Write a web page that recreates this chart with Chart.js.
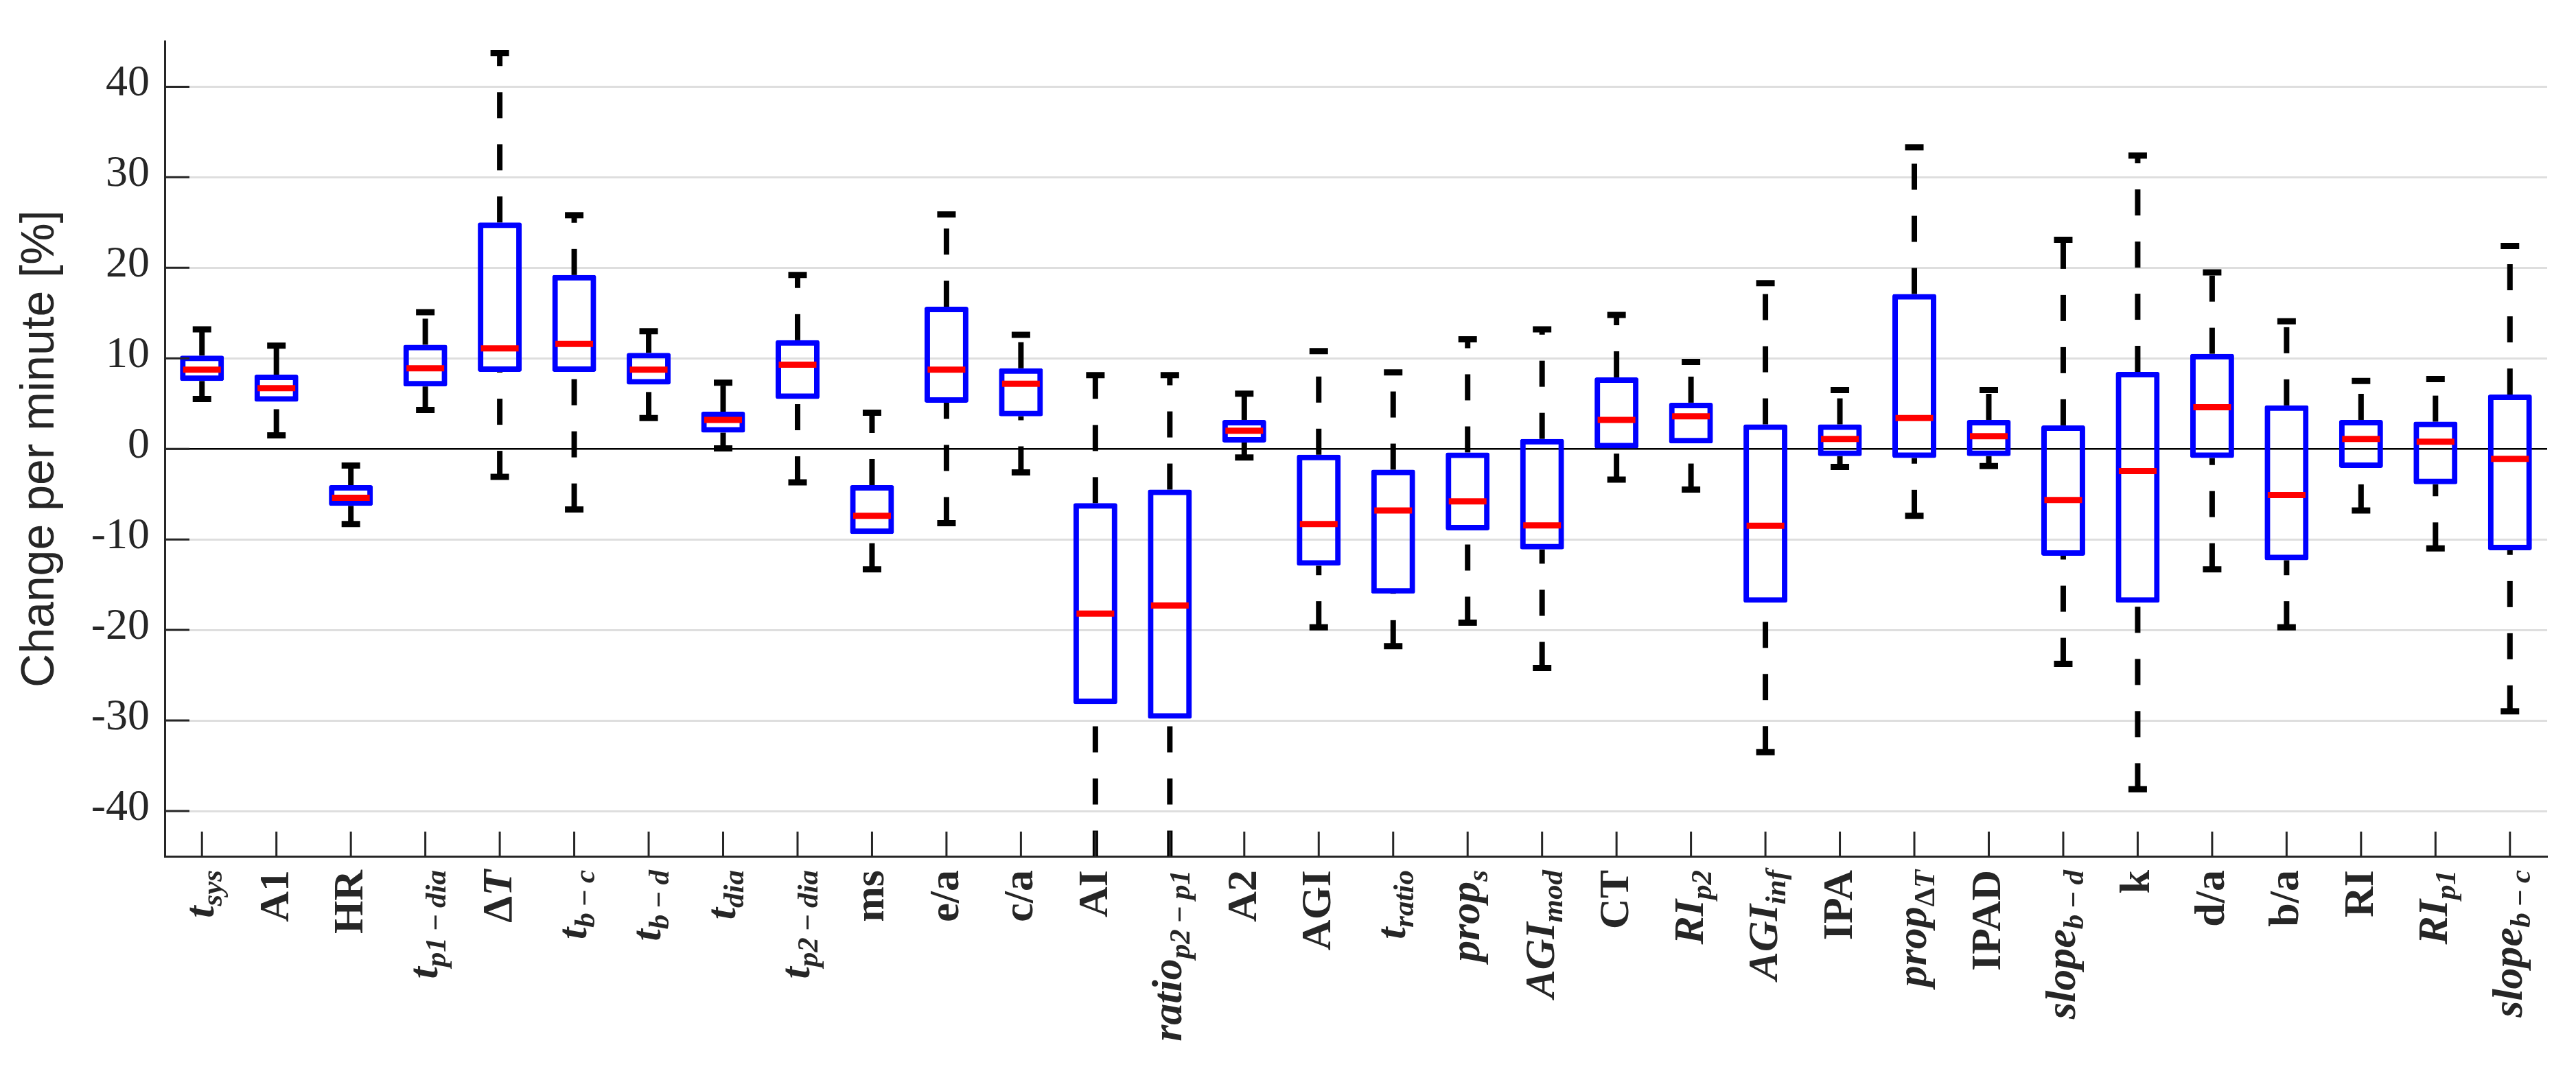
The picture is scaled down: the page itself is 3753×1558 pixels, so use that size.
<!DOCTYPE html>
<html>
<head>
<meta charset="utf-8">
<script src="https://cdn.jsdelivr.net/npm/chart.js@4.4.1/dist/chart.umd.min.js"></script>
<style>
  html, body { margin: 0; padding: 0; background: #fff; }
  #box { width: 3753px; height: 1558px; }
</style>
</head>
<body>
<div id="box"><canvas id="chartBoxplot" width="3753" height="1558"></canvas></div>
<script>
// categorias (ordem do eixo x)
const categories = ['t_sys', 'A1', 'HR', 't_p1-dia', 'ΔT', 't_b-c', 't_b-d', 't_dia', 't_p2-dia', 'ms',
    'e/a', 'c/a', 'AI', 'ratio_p2-p1', 'A2', 'AGI', 't_ratio', 'prop_s', 'AGI_mod', 'CT',
    'RI_p2', 'AGI_inf', 'IPA', 'prop_ΔT', 'IPAD', 'slope_b-d', 'k', 'd/a', 'b/a', 'RI',
    'RI_p1', 'slope_b-c']

// rotulos: [texto, subscrito, italico]
const tickLabels = [
    ['t', 'sys', true], ['A1', '', false], ['HR', '', false], ['t', 'p1-dia', true], ['ΔT', '', true],
    ['t', 'b-c', true], ['t', 'b-d', true], ['t', 'dia', true], ['t', 'p2-dia', true], ['ms', '', false],
    ['e/a', '', false], ['c/a', '', false], ['AI', '', false], ['ratio', 'p2-p1', true], ['A2', '', false],
    ['AGI', '', false], ['t', 'ratio', true], ['prop', 's', true], ['AGI', 'mod', true], ['CT', '', false],
    ['RI', 'p2', true], ['AGI', 'inf', true], ['IPA', '', false], ['prop', 'ΔT', true], ['IPAD', '', false],
    ['slope', 'b-d', true], ['k', '', false], ['d/a', '', false], ['b/a', '', false], ['RI', '', false],
    ['RI', 'p1', true], ['slope', 'b-c', true]
]

const whiskerHigh = [13.2, 11.4, -1.85, 15.1, 43.7, 25.8, 13.0, 7.3, 19.2, 4.0,
    25.9, 12.6, 8.15, 8.15, 6.1, 10.8, 8.45, 12.1, 13.2, 14.8,
    9.6, 18.3, 6.5, 33.3, 6.5, 23.1, 32.4, 19.5, 14.1, 7.5,
    7.7, 22.4]
const q3 = [10.3, 8.2, -4.0, 11.5, 25.0, 19.2, 10.6, 4.1, 12.0, -4.0,
    15.7, 8.9, -6.0, -4.5, 3.2, -0.65, -2.3, -0.4, 1.1, 7.9,
    5.1, 2.7, 2.7, 17.1, 3.2, 2.6, 8.5, 10.5, 4.8, 3.2,
    3.0, 6.0]
const median = [8.75, 6.7, -5.4, 8.9, 11.1, 11.6, 8.75, 3.2, 9.3, -7.4,
    8.75, 7.2, -18.2, -17.3, 2.0, -8.3, -6.8, -5.8, -8.45, 3.2,
    3.6, -8.5, 1.1, 3.4, 1.4, -5.65, -2.45, 4.6, -5.1, 1.1,
    0.8, -1.1]
const q1 = [7.5, 5.2, -6.3, 6.9, 8.5, 8.5, 7.1, 1.8, 5.5, -9.4,
    5.1, 3.6, -28.2, -29.8, 0.7, -12.9, -16.0, -9.0, -11.1, 0.05,
    0.6, -17.0, -0.8, -1.0, -0.8, -11.8, -17.0, -1.0, -12.3, -2.1,
    -3.9, -11.2]
const whiskerLow = [5.5, 1.5, -8.3, 4.3, -3.1, -6.7, 3.4, 0.05, -3.7, -13.3,
    -8.2, -2.6, -50.8, -50.8, -0.95, -19.7, -21.8, -19.2, -24.2, -3.4,
    -4.5, -33.5, -2.0, -7.4, -1.9, -23.75, -37.6, -13.3, -19.7, -6.8,
    -11.0, -29.0]

const yTicks = [-40, -30, -20, -10, 0, 10, 20, 30, 40]

Chart.defaults.font.family = 'Liberation Serif'

function partesTexto(texto, italico, tamanho, dy) {
    // o Δ fica sempre reto
    const partes = []
    texto.split(/(Δ)/).forEach(t => {
        if (!t) return
        const it = italico && t !== 'Δ'
        partes.push({ text: t, dy: dy, font: (it ? 'italic ' : '') + 'bold ' + tamanho + 'px Liberation Serif' })
    })
    return partes
}

const extrasBoxplot = {
    id: 'extrasBoxplot',
    beforeDatasetsDraw(chart) {
        const { ctx, chartArea, scales: { x, y } } = chart
        ctx.save()
        ctx.beginPath()
        ctx.rect(chartArea.left, chartArea.top, chartArea.right - chartArea.left, chartArea.bottom - chartArea.top)
        ctx.clip()
        ctx.strokeStyle = '#000'
        ctx.lineCap = 'butt'
        categories.forEach((c, i) => {
            const px = x.getPixelForValue(i)
            ctx.lineWidth = 8
            ctx.setLineDash([38, 38])
            ctx.beginPath()
            ctx.moveTo(px, y.getPixelForValue(q3[i]))
            ctx.lineTo(px, y.getPixelForValue(whiskerHigh[i]))
            ctx.stroke()
            ctx.beginPath()
            ctx.moveTo(px, y.getPixelForValue(whiskerLow[i]))
            ctx.lineTo(px, y.getPixelForValue(q1[i]))
            ctx.stroke()
            ctx.setLineDash([])
            ctx.lineWidth = 9
            ;[whiskerLow[i], whiskerHigh[i]].forEach(v => {
                const py = y.getPixelForValue(v)
                ctx.beginPath()
                ctx.moveTo(px - 13.5, py)
                ctx.lineTo(px + 13.5, py)
                ctx.stroke()
            })
        })
        ctx.restore()
    },
    afterDatasetsDraw(chart) {
        const { ctx, scales: { x, y } } = chart
        ctx.save()
        ctx.strokeStyle = '#ff0000'
        ctx.lineWidth = 9
        median.forEach((m, i) => {
            const px = x.getPixelForValue(i)
            const py = y.getPixelForValue(m)
            ctx.beginPath()
            ctx.moveTo(px - 27.5, py)
            ctx.lineTo(px + 27.5, py)
            ctx.stroke()
        })
        ctx.restore()
    },
    afterDraw(chart) {
        const { ctx, chartArea, scales: { x, y } } = chart
        ctx.save()
        // ticks para dentro
        ctx.strokeStyle = '#262626'
        ctx.lineWidth = 3
        ctx.beginPath()
        yTicks.forEach(v => {
            const py = y.getPixelForValue(v)
            ctx.moveTo(chartArea.left, py)
            ctx.lineTo(chartArea.left + 36, py)
        })
        categories.forEach((c, i) => {
            const px = x.getPixelForValue(i)
            ctx.moveTo(px, chartArea.bottom)
            ctx.lineTo(px, chartArea.bottom - 36)
        })
        ctx.stroke()

        // rotulos do eixo x (verticais, com subscrito)
        ctx.fillStyle = '#262626'
        ctx.textBaseline = 'alphabetic'
        ctx.textAlign = 'left'
        tickLabels.forEach(([principal, sub, italico], i) => {
            const px = x.getPixelForValue(i)
            let partes = partesTexto(principal, italico, 62, 0)
            if (sub) {
                partes = partes.concat(partesTexto(sub.replace(/-/g, '\u2009\u2212\u2009'), true, 43, 12))
            }
            let largura = 0
            partes.forEach(p => {
                ctx.font = p.font
                p.w = ctx.measureText(p.text).width
                largura += p.w
            })
            ctx.save()
            ctx.translate(px + 17, chartArea.bottom + 20)
            ctx.rotate(-Math.PI / 2)
            let cx = -largura
            partes.forEach(p => {
                ctx.font = p.font
                ctx.fillText(p.text, cx, p.dy)
                cx += p.w
            })
            ctx.restore()
        })
        ctx.restore()
    }
}

const ctxBox = document.getElementById('chartBoxplot')

const chartBoxplot = new Chart(ctxBox, {
    type: 'bar',
    data: {
        labels: categories,
        datasets: [{
            label: 'IQR',
            data: q1.map((v, i) => [v, q3[i]]),
            backgroundColor: 'rgba(0, 0, 0, 0)',
            borderColor: '#0000ff',
            borderWidth: 8,
            borderSkipped: false,
            borderRadius: 3,
            categoryPercentage: 1,
            barPercentage: 0.59
        }]
    },
    options: {
        responsive: false,
        devicePixelRatio: 1,
        animation: false,
        events: [],
        layout: {
            padding: { top: 41, right: 42, left: 0, bottom: 0 }
        },
        plugins: {
            legend: { display: false },
            tooltip: { enabled: false }
        },
        scales: {
            x: {
                offset: true,
                grid: { display: false },
                ticks: { display: false },
                border: { display: true, color: '#262626', width: 3 },
                afterFit: s => { s.height = 310 }
            },
            y: {
                min: -45,
                max: 45,
                afterBuildTicks: s => { s.ticks = yTicks.map(v => ({ value: v })) },
                afterFit: s => { s.width = 240 },
                grid: {
                    drawTicks: false,
                    color: c => (c.tick && c.tick.value === 0 ? '#000000' : '#dedede'),
                    lineWidth: c => (c.tick && c.tick.value === 0 ? 2.5 : 3)
                },
                border: { display: true, color: '#262626', width: 3 },
                ticks: {
                    padding: 22,
                    labelOffset: -4,
                    color: '#262626',
                    font: { family: 'Liberation Serif', size: 64 },
                    callback: v => String(v)
                },
                title: {
                    display: true,
                    text: 'Change per minute [%]',
                    color: '#262626',
                    font: { family: 'Liberation Sans', size: 68 },
                    padding: { top: 18, bottom: 0 }
                }
            }
        }
    },
    plugins: [extrasBoxplot]
})
</script>
</body>
</html>
